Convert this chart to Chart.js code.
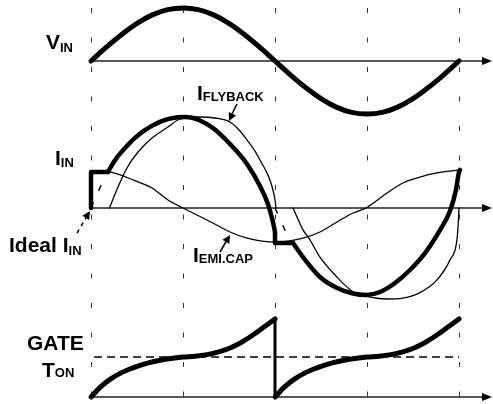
<!DOCTYPE html>
<html>
<head>
<meta charset="utf-8">
<script src="https://cdn.jsdelivr.net/npm/chart.js@4.4.1/dist/chart.umd.min.js"></script>
<style>
  html, body { margin: 0; padding: 0; background: #fff; }
  #wrap { width: 493px; height: 404px; position: relative; }
</style>
</head>
<body>
<div id="wrap"><canvas id="chart"></canvas></div>
<script>
// x = phase of the line cycle in degrees, y = normalised value of each trace
const gridPhases = [0, 90, 180, 270, 360];

// V_IN
const vinPhase = [0, 15, 30, 45, 60, 75, 90, 105, 120, 135, 150, 165, 180, 195, 210, 225, 240, 255, 270, 285, 300, 315, 330, 345, 360];
const vinValue = [0, 0.26, 0.5, 0.71, 0.87, 0.97, 1, 0.97, 0.87, 0.71, 0.5, 0.26, 0, -0.26, -0.5, -0.71, -0.87, -0.97, -1, -0.97, -0.87, -0.71, -0.5, -0.26, 0];

// I_FLYBACK (thin)
const flyPosPhase = [18, 26.4, 35.2, 46, 59.7, 75.3, 85, 96.8, 106.6, 121.3, 136, 145.8, 152.6, 160.4, 165.3, 171.2, 175.1, 178, 180, 181];
const flyPosValue = [0, 0.23, 0.44, 0.615, 0.77, 0.89, 0.967, 1.0, 1.0, 0.989, 0.945, 0.846, 0.747, 0.626, 0.527, 0.407, 0.308, 0.198, 0.088, 0];
const flyNegPhase = [197.6, 207.4, 214.2, 224, 240.7, 256.3, 272.9, 289.6, 305.2, 321.8, 338.5, 351.2, 358, 359.3, 360];
const flyNegValue = [0, -0.24, -0.35, -0.54, -0.76, -0.92, -0.98, -1.0, -0.99, -0.93, -0.79, -0.57, -0.35, -0.16, 0];

// I_EMI.CAP (thin)
const emiPhase = [0, 16.6, 43, 59.7, 75.3, 90, 119.3, 136, 152.6, 180, 207.4, 224, 240.7, 256.3, 269, 289.6, 305.2, 321.8, 338.5, 360];
const emiValue = [0.4, 0.396, 0.3, 0.22, 0.088, 0, -0.165, -0.264, -0.33, -0.374, -0.33, -0.264, -0.154, -0.055, 0, 0.165, 0.275, 0.34, 0.385, 0.418];

// I_IN (thick), split where it jumps
const inStepPhase = [0, 0, 16.6];
const inStepValue = [0, 0.396, 0.396];
const inPosPhase = [16.6, 22, 26.4, 35, 43, 52, 60, 68, 76, 85, 92, 99.8, 106.6, 119.3, 136, 152.6, 165.3, 173.1, 178, 180];
const inPosValue = [0.396, 0.5, 0.57, 0.68, 0.77, 0.85, 0.905, 0.95, 0.98, 0.997, 1.0, 0.989, 0.962, 0.879, 0.703, 0.484, 0.242, 0.044, -0.154, -0.264];
const inDropPhase = [180, 180, 197.6];
const inDropValue = [-0.264, -0.385, -0.385];
const inNegPhase = [197.6, 207.4, 224, 240.7, 256.3, 269, 282.7, 297.4, 312, 326.7, 341.4, 351.2, 357, 360, 361];
const inNegValue = [-0.385, -0.54, -0.758, -0.879, -0.94, -0.956, -0.923, -0.824, -0.681, -0.495, -0.242, -0.033, 0.198, 0.396, 0.418];

// ideal I_IN (dashed, only where it shows)
const ideal1Phase = [0, 9.8, 14];
const ideal1Value = [0, 0.25, 0.36];
const ideal2Phase = [180, 188, 194];
const ideal2Value = [0, -0.2, -0.35];

// GATE T_ON
const gate1Phase = [0, 8.8, 18.6, 28.4, 38, 47.9, 57, 67.5, 78, 90, 102, 113.5, 125, 136, 146, 155.5, 165.3, 173, 180];
const gate1Value = [0, 0.24, 0.44, 0.59, 0.7, 0.79, 0.86, 0.92, 0.965, 1.0, 1.02, 1.06, 1.13, 1.225, 1.35, 1.5, 1.675, 1.82, 1.95];
const gateDropPhase = [180, 180];
const gateDropValue = [1.95, 0];
const gate2Phase = [180, 188.8, 198.6, 208.4, 218, 227.9, 237, 247.5, 258, 270, 282, 293.5, 305, 316, 326, 335.5, 345.3, 353, 360];
const gate2Value = [0, 0.24, 0.44, 0.59, 0.7, 0.79, 0.86, 0.92, 0.965, 1.0, 1.02, 1.06, 1.13, 1.225, 1.35, 1.5, 1.675, 1.82, 1.95];
const tonPhase = [3, 360];
const tonValue = [1, 1];

/* ===== helpers ===== */
const W = 493, H = 404;
const pts = (xs, ys) => xs.map((x, i) => ({ x, y: ys[i] }));
function line(xs, ys, axis, width, extra) {
  return Object.assign({
    data: pts(xs, ys), yAxisID: axis,
    borderColor: "#000", borderWidth: width,
    borderCapStyle: "round", borderJoinStyle: "round",
    pointRadius: 0, fill: false, tension: 0
  }, extra || {});
}
const smooth = { cubicInterpolationMode: "monotone" };
// y range so that value 0 sits at zeroPx and one unit spans pxPerUnit
const yRange = (zeroPx, pxPerUnit) => ({ min: -(H - zeroPx) / pxPerUnit, max: zeroPx / pxPerUnit });
const pxPerDeg = 368 / 360;

const datasets = [
  line(vinPhase, vinValue, "yV", 5, smooth),
  line(inStepPhase, inStepValue, "yI", 4.5),
  line(inPosPhase, inPosValue, "yI", 4.5, smooth),
  line(inDropPhase, inDropValue, "yI", 4.5),
  line(inNegPhase, inNegValue, "yI", 4.5, smooth),
  line(flyPosPhase, flyPosValue, "yI", 1.3, smooth),
  line(flyNegPhase, flyNegValue, "yI", 1.3, smooth),
  line(emiPhase, emiValue, "yI", 1.3, smooth),
  line(ideal1Phase, ideal1Value, "yI", 1.5, { borderDash: [6, 13], borderCapStyle: "butt" }),
  line(ideal2Phase, ideal2Value, "yI", 1.5, { borderDash: [6, 13], borderCapStyle: "butt" }),
  line(gate1Phase, gate1Value, "yG", 5, smooth),
  line(gateDropPhase, gateDropValue, "yG", 3),
  line(gate2Phase, gate2Value, "yG", 5, smooth),
  line(tonPhase, tonValue, "yG", 1.6, { borderDash: [8, 5], borderCapStyle: "butt" })
];

/* ===== drawing of axes, labels, arrows ===== */
function arrowHead(ctx, x0, y0, x1, y1, len, half) {
  const a = Math.atan2(y1 - y0, x1 - x0);
  ctx.beginPath();
  ctx.moveTo(x1, y1);
  ctx.lineTo(x1 - len * Math.cos(a) + half * Math.sin(a), y1 - len * Math.sin(a) - half * Math.cos(a));
  ctx.lineTo(x1 - len * Math.cos(a) - half * Math.sin(a), y1 - len * Math.sin(a) + half * Math.cos(a));
  ctx.closePath();
  ctx.fill();
}
function subLabel(ctx, main, sub, x, y, dy) {
  ctx.font = "bold 21px 'Liberation Sans', Arial, sans-serif";
  ctx.fillText(main, x, y);
  const w = ctx.measureText(main).width;
  ctx.font = "bold 13px 'Liberation Sans', Arial, sans-serif";
  if (sub) ctx.fillText(sub, x + w, y + (dy || 0));
}

const decor = {
  id: "decor",
  beforeDatasetsDraw(chart) {
    const { ctx, scales } = chart;
    const xs = scales.x;
    ctx.save();
    // dashed phase markers
    ctx.strokeStyle = "#333";
    ctx.lineWidth = 1;
    ctx.setLineDash([5, 24.5]);
    ctx.lineDashOffset = 21.5;
    gridPhases.forEach(p => {
      const px = Math.round(xs.getPixelForValue(p)) + 0.5;
      ctx.beginPath(); ctx.moveTo(px, 0); ctx.lineTo(px, H); ctx.stroke();
    });
    ctx.setLineDash([]);
    // time axes with arrows
    ctx.strokeStyle = "#222";
    ctx.fillStyle = "#000";
    ctx.lineWidth = 1.3;
    ["yV", "yI", "yG"].forEach(id => {
      const y = scales[id].getPixelForValue(0);
      const x0 = xs.getPixelForValue(0), x1 = W - 1;
      ctx.beginPath(); ctx.moveTo(x0, y); ctx.lineTo(x1 - 6, y); ctx.stroke();
      arrowHead(ctx, x0, y, x1, y, 10, 4);
    });
    ctx.restore();
  },
  afterDatasetsDraw(chart) {
    const { ctx } = chart;
    ctx.save();
    ctx.fillStyle = "#000";
    ctx.strokeStyle = "#000";
    ctx.textBaseline = "alphabetic";
    subLabel(ctx, "V", "IN", 46, 49, 3);
    subLabel(ctx, "I", "FLYBACK", 197, 100, 1);
    subLabel(ctx, "I", "IN", 55, 165, 2);
    subLabel(ctx, "Ideal I", "IN", 9, 252, 3);
    subLabel(ctx, "I", "EMI.CAP", 193, 262, 1);
    subLabel(ctx, "GATE", "", 27, 350);
    subLabel(ctx, "T", "ON", 42, 377, 0);

    // pointer arrows
    ctx.lineWidth = 1.5;
    ctx.beginPath(); ctx.moveTo(237, 104); ctx.lineTo(231, 116); ctx.stroke();
    arrowHead(ctx, 237, 104, 229, 121, 8, 4);
    ctx.beginPath(); ctx.moveTo(220, 252); ctx.lineTo(227, 240); ctx.stroke();
    arrowHead(ctx, 220, 252, 230, 235, 8, 4);
    ctx.setLineDash([4, 4]);
    ctx.beginPath(); ctx.moveTo(77, 233); ctx.lineTo(86, 218); ctx.stroke();
    ctx.setLineDash([]);
    arrowHead(ctx, 80, 227, 90, 211, 8, 4);
    ctx.restore();
  }
};

new Chart(document.getElementById("chart"), {
  type: "line",
  data: { datasets },
  options: {
    responsive: true,
    maintainAspectRatio: false,
    animation: false,
    layout: { padding: 0 },
    plugins: { legend: { display: false }, tooltip: { enabled: false } },
    scales: {
      x: { type: "linear", display: false, min: -91 / pxPerDeg, max: (W - 91) / pxPerDeg },
      yV: Object.assign({ type: "linear", display: false }, yRange(61, 53)),
      yI: Object.assign({ type: "linear", display: false }, yRange(208, 91)),
      yG: Object.assign({ type: "linear", display: false }, yRange(397, 40))
    }
  },
  plugins: [decor]
});
</script>
</body>
</html>
